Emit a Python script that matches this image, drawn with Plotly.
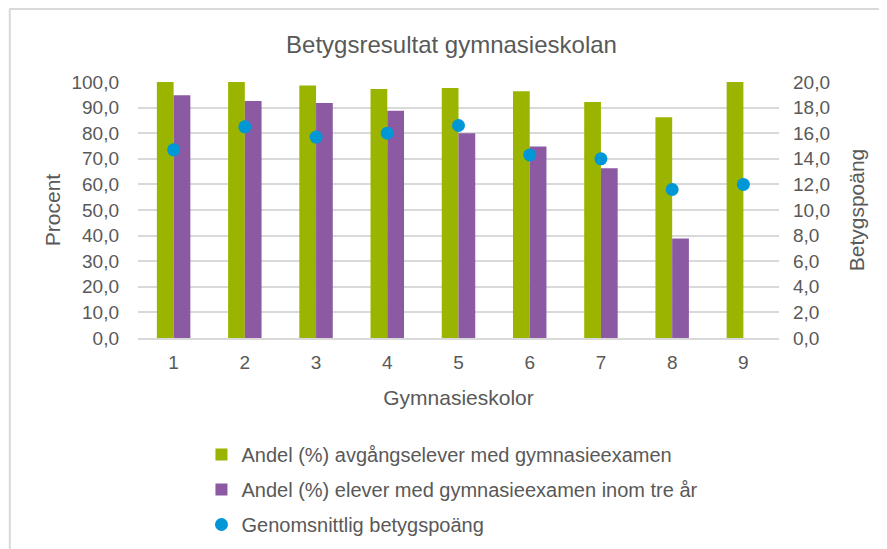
import plotly.graph_objects as go

schools = ["1", "2", "3", "4", "5", "6", "7", "8", "9"]
andel_examen = [100.0, 100.0, 98.6, 97.3, 97.7, 96.4, 92.2, 86.2, 100.0]
andel_tre_ar = [94.8, 92.6, 91.8, 88.8, 80.0, 74.8, 66.3, 38.9, None]
betygspoang = [14.7, 16.5, 15.7, 16.0, 16.6, 14.3, 14.0, 11.6, 12.0]

left_ticks = [0, 10, 20, 30, 40, 50, 60, 70, 80, 90, 100]
left_labels = ["0,0", "10,0", "20,0", "30,0", "40,0", "50,0", "60,0", "70,0", "80,0", "90,0", "100,0"]
right_ticks = [0, 2, 4, 6, 8, 10, 12, 14, 16, 18, 20]
right_labels = ["0,0", "2,0", "4,0", "6,0", "8,0", "10,0", "12,0", "14,0", "16,0", "18,0", "20,0"]

GREEN = "#9BB400"
PURPLE = "#8B5AA3"
BLUE = "#0097D7"
TXT = "#595959"
GRID = "#D9D9D9"
FONT = "Liberation Sans, Arial, sans-serif"

fig = go.Figure()
fig.add_trace(go.Bar(x=schools, y=andel_examen, name="Andel (%) avgångselever med gymnasieexamen",
                     marker=dict(color=GREEN, line=dict(width=0)), legendgroup="a"))
fig.add_trace(go.Bar(x=schools, y=andel_tre_ar, name="Andel (%) elever med gymnasieexamen inom tre år",
                     marker=dict(color=PURPLE, line=dict(width=0)), legendgroup="b"))
fig.add_trace(go.Scatter(x=schools, y=betygspoang, name="Genomsnittlig betygspoäng", mode="markers",
                         marker=dict(color=BLUE, size=13), yaxis="y2", legendgroup="c"))

fig.update_layout(
    width=887, height=549,
    margin=dict(l=130, r=116, t=74, b=219, autoexpand=False),
    paper_bgcolor="white", plot_bgcolor="white",
    font=dict(family=FONT, color=TXT, size=19),
    title=dict(text="Betygsresultat gymnasieskolan", x=0.5, xanchor="center", y=0.9335, yanchor="middle",
               font=dict(size=24, color=TXT)),
    barmode="group", bargap=0.53, bargroupgap=0,
    xaxis=dict(range=[-0.5, 8.5], showgrid=False, showline=True, linecolor=GRID, linewidth=1.5,
               automargin=False, tickfont=dict(size=19, color=TXT), ticklabelstandoff=6,
               title=dict(text="Gymnasieskolor", font=dict(size=21, color=TXT), standoff=19)),
    yaxis=dict(range=[0, 100], tickvals=left_ticks, ticktext=left_labels, showgrid=True, automargin=False,
               gridcolor=GRID, gridwidth=1.5, zeroline=False, tickfont=dict(size=19, color=TXT),
               ticklabelstandoff=18,
               title=dict(text="Procent", font=dict(size=21, color=TXT), standoff=5)),
    yaxis2=dict(range=[0, 20], tickvals=right_ticks, ticktext=right_labels, overlaying="y", side="right",
                showgrid=False, zeroline=False, tickfont=dict(size=19, color=TXT), ticklabelstandoff=13,
                automargin=False,
                title=dict(text="Betygspoäng", font=dict(size=21, color=TXT), standoff=20)),
    legend=dict(orientation="v", x=0.099, xanchor="left", y=-0.379, yanchor="top",
                font=dict(size=20, color=TXT), tracegroupgap=6, bgcolor="rgba(0,0,0,0)",
                traceorder="grouped", itemwidth=30),
    showlegend=True,
)

fig.add_shape(type="rect", xref="paper", yref="paper", x0=-0.2, x1=2, y0=-3, y1=1 + 73 / 256,
              line=dict(color="#D9D9D9", width=2), fillcolor="rgba(0,0,0,0)", layer="below")

fig.write_html("out.html")
